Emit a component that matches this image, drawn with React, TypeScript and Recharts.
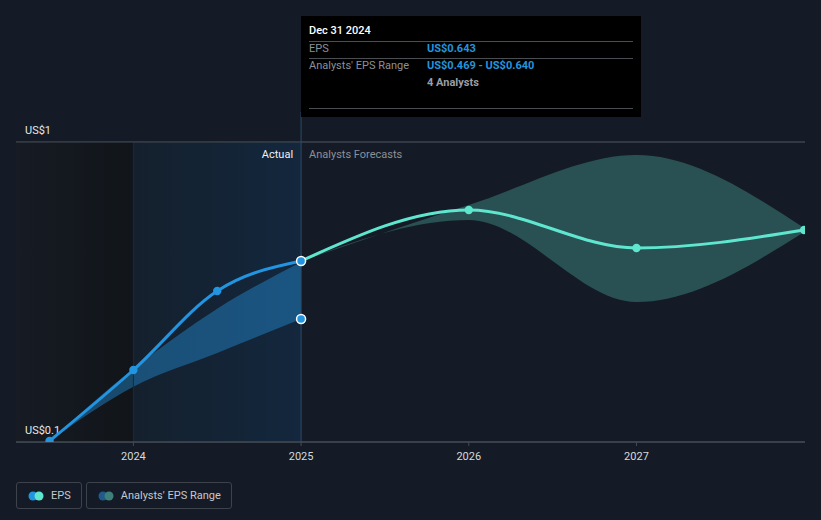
import React from "react";
import {
  ComposedChart,
  Line,
  Area,
  XAxis,
  YAxis,
  CartesianGrid,
  ReferenceArea,
  ReferenceLine,
  ReferenceDot,
} from "recharts";

// ---- data ----
const periods = [2023.5, 2024, 2024.5, 2025, 2026, 2027, 2028];
const epsActual: (number | null)[] = [0.103, 0.316, 0.553, 0.643, null, null, null];
const epsForecast: (number | null)[] = [null, null, null, 0.643, 0.796, 0.682, 0.736];
const actualRangeLow: (number | null)[] = [0.103, 0.266, 0.367, 0.469, null, null, null];
const actualRangeHigh: (number | null)[] = [0.103, 0.32, 0.5, 0.64, null, null, null];
const forecastRangeLow: (number | null)[] = [null, null, null, 0.643, 0.766, 0.52, 0.73];
const forecastRangeHigh: (number | null)[] = [null, null, null, 0.643, 0.811, 0.961, 0.742];

const xTicks = [2024, 2025, 2026, 2027];
const yTicks = [0.1, 0.2, 0.4, 0.6, 0.8, 1];
const yLabelTop = "US$1";
const yLabelBottom = "US$0.1";
const xDomain = [2023.3, 2028.005];
const yDomain = [0.1, 1];
const actualStart = 2024;
const forecastStart = 2025;

const tooltipDate = "Dec 31 2024";
const tooltipEps = "US$0.643";
const tooltipRange = "US$0.469 - US$0.640";
const tooltipAnalysts = "4 Analysts";

const rows = periods.map((p, i) => ({
  x: p,
  actual: epsActual[i],
  forecast: epsForecast[i],
  actualRange:
    actualRangeLow[i] != null ? [actualRangeLow[i], actualRangeHigh[i]] : null,
  forecastRange:
    forecastRangeLow[i] != null ? [forecastRangeLow[i], forecastRangeHigh[i]] : null,
}));

const FONT = "Roboto, 'Noto Sans', sans-serif";
const BLUE = "#2394df";
const TEAL = "#5fe6cf";
const BG = "#151b26";

const XTick = (props: any) => {
  const { x, y, payload } = props;
  return (
    <text x={x} y={y + 12} fill="#d6d9dd" fontSize={11} fontFamily={FONT} textAnchor="middle">
      {payload.value}
    </text>
  );
};

const makeYLabel = (text: string) => (props: any) => {
  const { viewBox } = props;
  return (
    <text
      x={viewBox.x + 9}
      y={viewBox.y - 8}
      fill="#e6e8eb"
      fontSize={11}
      fontFamily={FONT}
      textAnchor="start"
    >
      {text}
    </text>
  );
};

const ActualDot = (props: any) => {
  const { cx, cy, payload, index } = props;
  if (cx == null || cy == null || payload.actual == null) return <g key={`ad${index}`} />;
  const hl = payload.x === forecastStart;
  return (
    <circle
      key={`ad${index}`}
      cx={cx}
      cy={cy}
      r={hl ? 4.5 : 4.2}
      fill={BLUE}
      stroke={hl ? "#ffffff" : "none"}
      strokeWidth={hl ? 1.5 : 0}
    />
  );
};

const ForecastDot = (props: any) => {
  const { cx, cy, payload, index } = props;
  if (cx == null || cy == null || payload.forecast == null || payload.x === forecastStart)
    return <g key={`fd${index}`} />;
  return <circle key={`fd${index}`} cx={cx} cy={cy} r={4.2} fill={TEAL} />;
};

const DividerLabel = (props: any) => {
  const { viewBox } = props;
  const x = viewBox.x + viewBox.width;
  const y = viewBox.y;
  return (
    <g>
      <text x={x - 8} y={y + 16} fill="#f0f2f4" fontSize={11} fontFamily={FONT} textAnchor="end">
        Actual
      </text>
      <text x={x + 8} y={y + 16} fill="#8b9098" fontSize={11} fontFamily={FONT} textAnchor="start">
        Analysts Forecasts
      </text>
    </g>
  );
};

const sepStyle: React.CSSProperties = {
  position: "absolute",
  left: 8,
  right: 8,
  height: 1,
  background: "#4a4d52",
};

export default function App() {
  return (
    <div
      style={{
        position: "absolute",
        left: 0,
        top: 0,
        width: 821,
        height: 520,
        background: BG,
        overflow: "hidden",
        fontFamily: FONT,
      }}
    >
      <ComposedChart
        width={821}
        height={520}
        data={rows}
        margin={{ top: 142, right: 16, bottom: 48, left: 16 }}
      >
        <defs>
          <linearGradient id="pastShade" x1="0" y1="0" x2="1" y2="0">
            <stop offset="0%" stopColor="#161b24" />
            <stop offset="100%" stopColor="#111519" />
          </linearGradient>
          <linearGradient id="actualShade" x1="0" y1="0" x2="1" y2="0">
            <stop offset="0%" stopColor="#14202d" />
            <stop offset="100%" stopColor="#13273d" />
          </linearGradient>
        </defs>
        <ReferenceArea
          x1={xDomain[0]}
          x2={actualStart}
          y1={yDomain[0]}
          y2={yDomain[1]}
          fill="url(#pastShade)"
          fillOpacity={1}
          stroke="none"
        />
        <ReferenceArea
          x1={actualStart}
          x2={forecastStart}
          y1={yDomain[0]}
          y2={yDomain[1]}
          fill="url(#actualShade)"
          fillOpacity={1}
          stroke="none"
          label={<DividerLabel />}
        />
        <CartesianGrid vertical={false} stroke="#30353e" strokeWidth={1} />
        <ReferenceLine x={actualStart} stroke="#1b2a39" strokeWidth={1} />
        <XAxis
          dataKey="x"
          type="number"
          domain={xDomain}
          ticks={xTicks}
          allowDataOverflow
          height={30}
          axisLine={{ stroke: "#454a53" }}
          tickLine={{ stroke: "#454a53" }}
          tickSize={4}
          tick={<XTick />}
          interval={0}
        />
        <YAxis
          type="number"
          domain={yDomain}
          ticks={yTicks}
          allowDataOverflow
          width={0}
          axisLine={false}
          tickLine={false}
          tick={false}
        />
        <ReferenceLine y={yDomain[1]} stroke="#454a53" label={makeYLabel(yLabelTop)} />
        <ReferenceLine y={yDomain[0]} stroke="#454a53" label={makeYLabel(yLabelBottom)} />
        <Area
          dataKey="forecastRange"
          type="monotone"
          fill={TEAL}
          fillOpacity={0.27}
          stroke="none"
          isAnimationActive={false}
          activeDot={false}
          dot={false}
        />
        <Area
          dataKey="actualRange"
          type="monotone"
          fill={BLUE}
          fillOpacity={0.42}
          stroke="none"
          isAnimationActive={false}
          activeDot={false}
          dot={false}
        />
        <ReferenceLine
          segment={[
            { x: forecastStart, y: yDomain[0] },
            { x: forecastStart, y: 1.09 },
          ]}
          stroke="#2d4a66"
          strokeWidth={1}
          ifOverflow="visible"
        />
        <Line
          dataKey="forecast"
          type="monotone"
          stroke={TEAL}
          strokeWidth={3}
          dot={<ForecastDot />}
          activeDot={false}
          isAnimationActive={false}
        />
        <Line
          dataKey="actual"
          type="monotone"
          stroke={BLUE}
          strokeWidth={3}
          dot={<ActualDot />}
          activeDot={false}
          isAnimationActive={false}
        />
        <ReferenceDot
          x={forecastStart}
          y={actualRangeLow[3] as number}
          r={4.5}
          fill={BLUE}
          stroke="#ffffff"
          strokeWidth={1.5}
        />
      </ComposedChart>

      {/* tooltip box */}
      <div
        style={{
          position: "absolute",
          left: 301,
          top: 16,
          width: 340,
          height: 101,
          background: "#000000",
          fontSize: 11,
        }}
      >
        <div style={{ position: "absolute", left: 8, top: 8, color: "#ffffff", fontWeight: 500 }}>
          {tooltipDate}
        </div>
        <div style={{ ...sepStyle, top: 25 }} />
        <div style={{ position: "absolute", left: 8, top: 26, color: "#8b9098" }}>EPS</div>
        <div style={{ position: "absolute", left: 126, top: 26, color: BLUE, fontWeight: 700 }}>
          {tooltipEps}
        </div>
        <div style={{ ...sepStyle, top: 42 }} />
        <div style={{ position: "absolute", left: 8, top: 43, color: "#8b9098" }}>
          Analysts' EPS Range
        </div>
        <div style={{ position: "absolute", left: 126, top: 43, color: BLUE, fontWeight: 700 }}>
          {tooltipRange}
        </div>
        <div style={{ position: "absolute", left: 126, top: 60, color: "#9a9ea5", fontWeight: 700 }}>
          {tooltipAnalysts}
        </div>
        <div style={{ ...sepStyle, top: 92 }} />
      </div>

      {/* legend */}
      <div style={{ position: "absolute", left: 16, top: 482, display: "flex", gap: 4 }}>
        {[
          { label: "EPS", c1: BLUE, c2: TEAL },
          { label: "Analysts' EPS Range", c1: "#1f5a8a", c2: "#3e7f7a" },
        ].map((it) => (
          <div
            key={it.label}
            style={{
              height: 25,
              border: "1px solid #3d424b",
              borderRadius: 3,
              display: "flex",
              alignItems: "center",
              padding: "0 10px 0 11px",
              fontSize: 11,
              color: "#c4c8ce",
            }}
          >
            <svg width={16} height={10} style={{ marginRight: 7 }}>
              <circle cx={5} cy={5} r={4.5} fill={it.c1} />
              <circle cx={11} cy={5} r={4.5} fill={it.c2} />
            </svg>
            {it.label}
          </div>
        ))}
      </div>
    </div>
  );
}
